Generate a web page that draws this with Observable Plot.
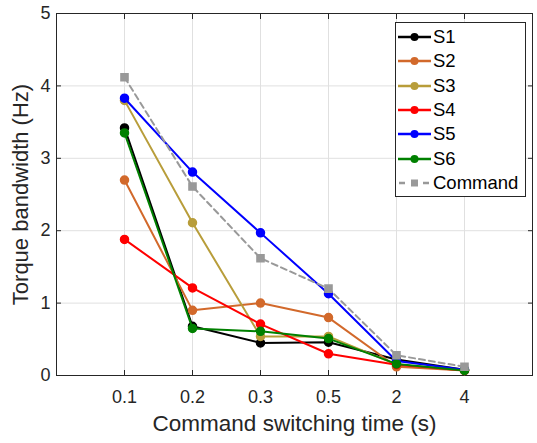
<!DOCTYPE html>
<html><head><meta charset="utf-8">
<script src="https://cdn.jsdelivr.net/npm/d3@7"></script>
<script src="https://cdn.jsdelivr.net/npm/@observablehq/plot@0.6"></script>
<style>
body{margin:0;background:#fff;font-family:"Liberation Sans",Arial,sans-serif;}
#wrap{position:relative;width:537px;height:443px;}
#legend{position:absolute;left:395px;top:22px;width:131px;height:175px;border:1px solid #262626;background:#fff;box-sizing:border-box;padding-top:2px;}
.row{height:24.3px;display:flex;align-items:center;font-size:18.5px;color:#000;}
.row svg{margin-left:1px;margin-right:2px;}
g[aria-label="x-axis label"] text, g[aria-label="x-axis label"]{font-size:22.5px;}
g[aria-label="y-axis label"] text, g[aria-label="y-axis label"]{font-size:22px;}
</style></head><body><div id="wrap"></div>
<script>
const times = ["0.1","0.2","0.3","0.5","2","4"];
const yTicks = [0,1,2,3,4,5];
const seriesNames = ["S1","S2","S3","S4","S5","S6","Command"];
const seriesColors = ["#000000","#D2692B","#B89D3A","#FF0000","#0000FF","#008000","#999999"];
const s1 = [3.42,0.68,0.45,0.46,0.22,0.08];
const s2 = [2.70,0.90,1.00,0.80,0.12,0.07];
const s3 = [3.80,2.11,0.54,0.54,0.15,0.07];
const s4 = [1.88,1.21,0.71,0.30,0.15,0.07];
const s5 = [3.83,2.81,1.97,1.13,0.20,0.08];
const s6 = [3.35,0.65,0.61,0.51,0.16,0.07];
const command = [4.12,2.61,1.62,1.20,0.28,0.12];
const allSeries = [s1,s2,s3,s4,s5,s6,command];

const rows = [];
allSeries.forEach((vals,i)=>vals.forEach((v,j)=>rows.push({series:seriesNames[i], t:times[j], v})));

const marks = [
  Plot.gridY(yTicks.slice(1,5), {stroke:"#e0e0e0", strokeOpacity:1}),
  Plot.gridX(times, {stroke:"#e0e0e0", strokeOpacity:1}),
  Plot.axisY(yTicks, {anchor:"left", tickSize:0, tickPadding:6, fontSize:18, tickFormat:d3.format("d"), label:"Torque bandwidth (Hz)", labelAnchor:"center", labelArrow:"none", labelOffset:44, color:"#262626"}),
  Plot.axisY(yTicks, {anchor:"left", tickSize:5, dx:5, text:null, label:null, stroke:"#262626"}),
  Plot.axisY(yTicks, {anchor:"right", tickSize:5, dx:-5, text:null, label:null, stroke:"#262626"}),
  Plot.axisX(times, {anchor:"bottom", tickSize:0, tickPadding:15, fontSize:18, label:"Command switching time (s)", labelAnchor:"center", labelArrow:"none", labelOffset:55, color:"#262626"}),
  Plot.axisX(times, {anchor:"bottom", tickSize:5, dy:-5, text:null, label:null, stroke:"#262626"}),
  Plot.axisX(times, {anchor:"top", tickSize:5, dy:5, text:null, label:null, stroke:"#262626"}),
  Plot.frame({stroke:"#262626"})
];
seriesNames.forEach((name,i)=>{
  const d = rows.filter(r=>r.series===name);
  const isCmd = name==="Command";
  marks.push(Plot.line(d, {x:"t", y:"v", stroke:seriesColors[i], strokeWidth:2, strokeDasharray: isCmd ? "6,4" : null}));
  marks.push(Plot.dot(d, {x:"t", y:"v", fill:seriesColors[i], stroke:seriesColors[i], r:4, symbol: isCmd ? "square" : "circle"}));
});

const chart = Plot.plot({
  width:537, height:443,
  marginLeft:56, marginRight:5, marginTop:13, marginBottom:68,
  style:{fontFamily:"'Liberation Sans', Arial, sans-serif", background:"#fff"},
  x:{type:"point", domain:times, padding:1},
  y:{domain:[0,5]},
  marks
});
const wrap = document.getElementById("wrap");
wrap.appendChild(chart);

const leg = document.createElement("div");
leg.id = "legend";
seriesNames.forEach((name,i)=>{
  const isCmd = name==="Command";
  const row = document.createElement("div");
  row.className = "row";
  const c = seriesColors[i];
  const marker = isCmd
    ? `<rect x="14" y="4.5" width="7" height="7" fill="${c}"/>`
    : `<circle cx="17.5" cy="8" r="4" fill="${c}"/>`;
  row.innerHTML = `<svg width="34" height="16"><line x1="1" x2="34" y1="8" y2="8" stroke="${c}" stroke-width="2.5" ${isCmd ? 'stroke-dasharray="6,6" stroke-dashoffset="-1"' : ''}/>${marker}</svg><span>${name}</span>`;
  leg.appendChild(row);
});
wrap.appendChild(leg);
</script>
</body></html>
